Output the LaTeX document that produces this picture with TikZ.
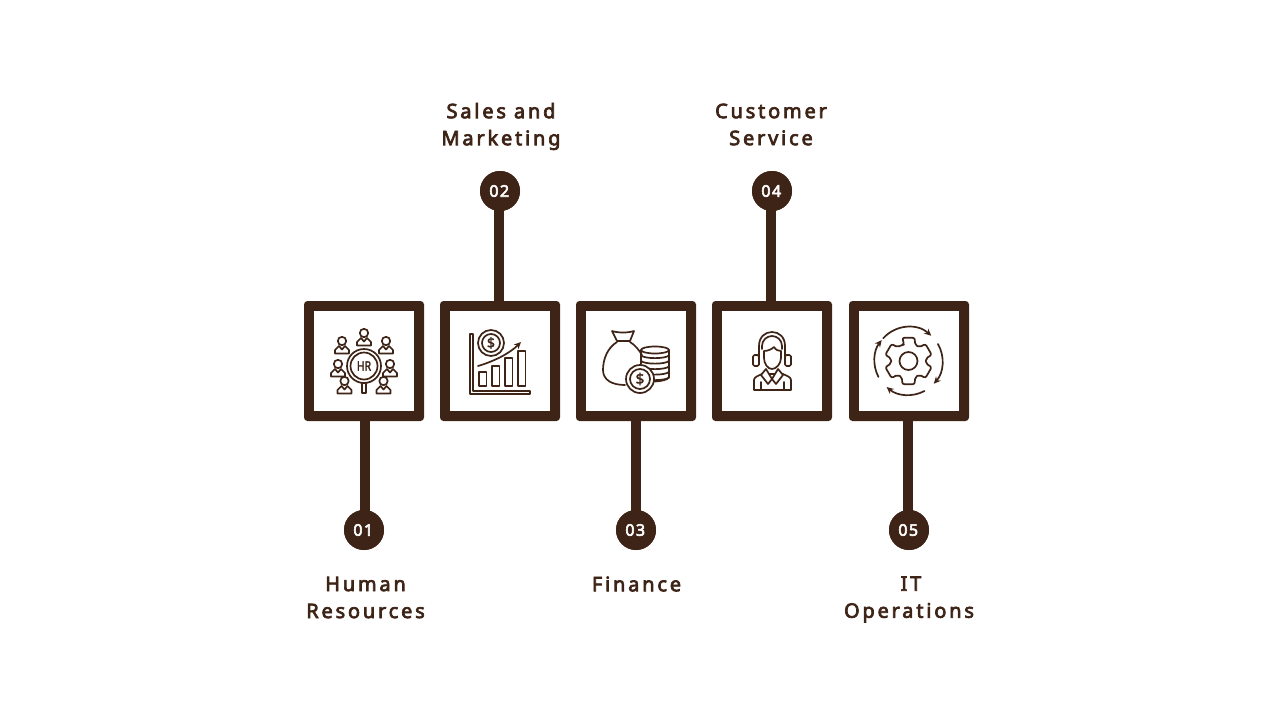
\documentclass[tikz,border=0pt]{standalone}
\usepackage{fontspec}
\setmainfont{Noto Sans}
\newfontfamily\labelfont[LetterSpace=14,FakeBold=3.5]{Noto Sans}
\newfontfamily\numfont[LetterSpace=9,FakeBold=3.5]{Noto Sans}
\newfontfamily\tagfont[FakeBold=2.5]{Noto Sans}
\definecolor{bark}{HTML}{3E2417}
\usetikzlibrary{positioning,arrows.meta}

\begin{document}
\begin{tikzpicture}[x=1pt,y=-1pt,line width=1.6pt,
	stepbox/.style={fill=bark,minimum size=120pt,inner sep=0pt,outer sep=0pt,rounded corners=3.5pt},
	stephole/.style={fill=white,minimum size=100pt,inner sep=0pt,outer sep=0pt},
	dot/.style={circle,fill=bark,text=white,minimum size=40pt,inner sep=0pt,outer sep=0pt,font=\numfont\fontsize{16}{16}\selectfont},
	stem/.style={draw=bark,line width=10pt},
	caption/.style={text=bark,align=center,font=\labelfont\fontsize{20}{27}\selectfont},
	icon/.style={draw=bark,line width=1.7pt,line join=round,line cap=round},
	tip/.style={-{Stealth[length=7pt,width=6.5pt]}}]
		\useasboundingbox (0,0) rectangle (1280,720);
		
		% Draw boxes, dots and stems
		\foreach \n/\x/\y/\s/\a/\b in {1/364/530/1/south/north, 2/500/191/-1/north/south, 3/636/530/0/south/north, 4/772/191/-1/north/south, 5/909/530/-1/south/north}{
			\node[stepbox] (box\n) at (\x,361) {};
			\node[stephole] (hole\n) at (box\n) {};
			\node[dot] (dot\n) at (\x,\y) {};
			\draw[stem] ([xshift=\s]box\n.\a) -- ([xshift=\s]dot\n.center);
			\node[dot] (num\n) at (dot\n) {\hspace*{-1.5pt}0\n};
		}
		
		% Draw captions
		\node[caption] (hr)  at (365.5,597.5) {Human\\Resources};
		\node[caption] (sm)  at (501,126.5) {Sales and\\Marketing};
		\node[caption] (fin) at (636.5,584) {Finance};
		\node[caption] (cs)  at (771,124.5) {Customer\\Service};
		\node[caption] (it)  at (909,599.5) {\hspace*{4pt}IT\\Operations};
		
		% HR icon
		\draw[icon] (364,366) circle (17) (364,366) circle (13.5);
		\node[text=bark,xscale=.8,font=\tagfont\fontsize{13}{13}\selectfont] (hrtag) at (364,366) {HR};
		\draw[icon] (362,383.5) -- (362,393) -- (366,393) -- (366,383.5);
		\foreach \x/\y in {342/341, 364/333, 386/341, 338/364, 390/364, 344.5/381, 383.5/381}{
			\draw[icon] (\x,\y) circle (4.2);
			\draw[icon] (\x-7,\y+12.5) -- (\x-7,\y+9) -- (\x-3,\y+5) -- (\x,\y+8.5) -- (\x+3,\y+5) -- (\x+7,\y+9) -- (\x+7,\y+12.5) -- cycle;
		}
		
		% Chart icon
		\draw[icon] (470,334) -- (473,334) -- (473,391) -- (530,391) -- (530,394) -- (470,394) -- cycle;
		\foreach \x/\y in {479/372, 492/366, 505/358, 518/351}{
			\draw[icon] (\x,\y) rectangle (\x+7.5,386);
		}
		\draw[icon] (491,343) circle (13) (491,343) circle (9);
		\node[text=bark,font=\tagfont\fontsize{14}{14}\selectfont] (chartcoin) at (491,343) {\$};
		\draw[icon,tip] (478,366) .. controls (495,361) and (510,353) .. (521,342);
		
		% Money icon
		\draw[icon] (612,331) .. controls (618,333) and (628,333) .. (634,331) -- (630,341) -- (617,341) -- cycle;
		\draw[icon] (617,342) .. controls (607,348) and (603,360) .. (603,370) .. controls (603,380) and (612,385) .. (625,385);
		\draw[icon] (630,342) .. controls (635,345) and (639,350) .. (642,355);
		\draw[icon] (655,350) ellipse (14 and 3.5);
		\foreach \y in {355.5,361,366.5,372,377.5}{
			\draw[icon] (641,\y) .. controls (645,\y+3.5) and (665,\y+3.5) .. (669,\y);
		}
		\draw[icon] (641,350) -- (641,364) (669,350) -- (669,377.5) .. controls (667,380) and (662,381) .. (655,381.5);
		\draw[icon,fill=white] (640,379) circle (14) (640,379) circle (10);
		\node[text=bark,font=\tagfont\fontsize{15}{15}\selectfont] (bagcoin) at (640,379) {\$};
		
		% Headset icon
		\draw[icon] (759,356) -- (759,346) .. controls (759,337) and (765,332) .. (772,332) .. controls (779,332) and (785,337) .. (785,346) -- (785,356);
		\draw[icon] (762,349) -- (762,346) .. controls (762,340) and (767,336) .. (772,336) .. controls (777,336) and (782,340) .. (782,346) -- (782,349);
		\draw[icon,rounded corners=1.5pt] (753,355) rectangle (759,366) (785,355) rectangle (791,366);
		\draw[icon] (764,351) .. controls (768,351) and (772,349) .. (774,347) .. controls (776,350) and (778,351) .. (781,351) -- (781,358) .. controls (781,364) and (776,369) .. (772,369) .. controls (768,369) and (764,364) .. (764,358) -- cycle;
		\draw[icon] (754,390) -- (754,380) .. controls (754,377) and (758,376) .. (762,374) -- (791-8,374) .. controls (787,376) and (791,377) .. (791,380) -- (791,390) -- cycle;
		\draw[icon,fill=white] (766,369) -- (761,375) -- (768,384) -- (772,379) -- (776,384) -- (783,375) -- (778,369) -- (772,379) -- cycle;
		\draw[icon] (761,382) -- (761,390) (784,382) -- (784,390);
		
		% Gear icon
		\begin{scope}[shift={(908.5,361)}]
			\draw[icon,rounded corners=2pt] (-105:17) \foreach \a in {-90,-30,...,210}{
				-- (\a-15:24) -- (\a+15:24) -- (\a+22:17.5) -- (\a+38:17.5)
			} -- cycle;
			\draw[icon] (0,0) circle (9);
			\foreach \s/\e in {138/48, 30/-42, -62/-130, -152/-218}{
				\draw[icon,tip] (-\s:34) arc[start angle=-\s,end angle=-\e,radius=34];
			}
		\end{scope}
\end{tikzpicture}
\end{document}
